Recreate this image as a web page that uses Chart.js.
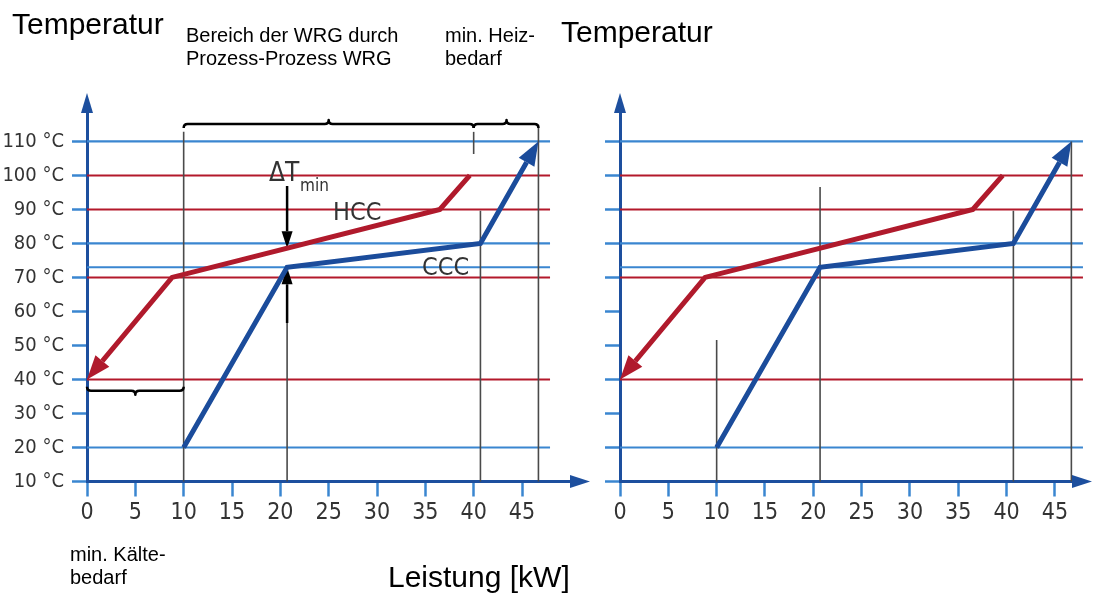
<!DOCTYPE html>
<html>
<head>
<meta charset="utf-8">
<script src="https://cdn.jsdelivr.net/npm/chart.js@4.4.1/dist/chart.umd.min.js"></script>
<style>
  html, body { margin: 0; padding: 0; background: #fff; }
  body { width: 1098px; height: 597px; position: relative; overflow: hidden;
         font-family: "Liberation Sans", Arial, sans-serif; }
  canvas { position: absolute; top: 0; }
  #chartLeft { left: 0; width: 600px; height: 597px; }
  #chartRight { left: 590px; width: 508px; height: 597px; }
  .t { position: absolute; line-height: 1; color: #000; white-space: nowrap; }
  .note { font-size: 20px; line-height: 23px; }
  .big { font-size: 30px; }
  .narrow { font-family: "Liberation Sans Narrow", "DejaVu Sans Condensed", sans-serif; color: #333; }
</style>
</head>
<body>
<canvas id="chartLeft" width="600" height="597"></canvas>
<canvas id="chartRight" width="508" height="597"></canvas>

<div class="t big" style="left:12px;top:9px">Temperatur</div>
<div class="t big" style="left:561px;top:17px">Temperatur</div>
<div class="t note" style="left:186px;top:24px">Bereich der WRG durch<br>Prozess-Prozess WRG</div>
<div class="t note" style="left:445px;top:24px">min. Heiz-<br>bedarf</div>
<div class="t note" style="left:70px;top:543px">min. Kälte-<br>bedarf</div>
<div class="t big" style="left:388px;top:562px">Leistung [kW]</div>
<div class="t narrow" style="left:333px;top:199px;font-size:25px">HCC</div>
<div class="t narrow" style="left:422px;top:254px;font-size:25px">CCC</div>
<div class="t narrow" style="left:269px;top:159px;font-size:26px">ΔT</div>
<div class="t narrow" style="left:300px;top:177px;font-size:17px">min</div>

<script>
// Axis ticks
const tempTicks = [10, 20, 30, 40, 50, 60, 70, 80, 90, 100, 110];
const powerTicks = [0, 5, 10, 15, 20, 25, 30, 35, 40, 45];

// Temperature levels of the hot (red) and cold (blue) streams
const hotLevels = [100, 90, 70, 40];
const coldLevels = [110, 80, 73, 20];
const levelEnd = 47.9;

// Hot composite curve (HCC), drawn from the top end down to the arrow tip
const hccPower = [39.6, 36.5, 8.8, 0];
const hccTemp = [100, 90, 70, 40];

// Cold composite curve (CCC), drawn from the start up to the arrow tip
const cccPower = [10, 20.7, 40.7, 46.7];
const cccTemp = [20, 73, 80, 110];

// Vertical guide lines (power in kW, upper end in °C)
const guidePower = [10, 20.7, 40.7, 46.7];
const guideTopLeft = [112.8, 56.6, 89.6, 114.9];
const guideTopRight = [51.6, 96.6, 89.6, 110];
const splitMarkPower = 40;
const splitMarkTemp = [106.3, 112.8];

// Minimum temperature difference at the pinch
const pinchPower = 20.7;
const pinchHot = 78.6;
const pinchCold = 73;
const pinchArrowStart = [96.9, 56.6];

const RED = '#b01a2c';
const BLUE = '#1b4c9b';
const GRID_RED = '#b3192b';
const GRID_BLUE = '#3a86d0';
const AXIS_BLUE = '#1d4f9e';
const GUIDE = '#4a4a4a';
const LABEL_FONT = "'Liberation Sans Narrow', 'DejaVu Sans Condensed', sans-serif";

const pts = (xs, ys) => xs.map((x, i) => ({ x, y: ys[i] }));

function levelSets() {
  const sets = [];
  hotLevels.forEach(t => sets.push({ data: pts([0, levelEnd], [t, t]), borderColor: GRID_RED, borderWidth: 2, order: 4, clip: false }));
  coldLevels.forEach(t => sets.push({ data: pts([0, levelEnd], [t, t]), borderColor: GRID_BLUE, borderWidth: 2.2, order: 4, clip: false }));
  return sets;
}

function guideSets(tops) {
  return guidePower.map((p, i) => ({ data: pts([p, p], [10, tops[i]]), borderColor: GUIDE, borderWidth: 1.6, order: 3, clip: false }));
}

function curveSets() {
  return [
    { data: pts(hccPower, hccTemp), borderColor: RED, borderWidth: 5, order: 0, head: { len: 24, half: 9 } },
    { data: pts(cccPower, cccTemp), borderColor: BLUE, borderWidth: 5, order: 0, head: { len: 24, half: 9 } }
  ];
}

function pinchSets() {
  return [
    { data: pts([pinchPower, pinchPower], [pinchArrowStart[0], pinchHot]), borderColor: '#000', borderWidth: 2.5, order: 1, head: { len: 17, half: 5.5 } },
    { data: pts([pinchPower, pinchPower], [pinchArrowStart[1], pinchCold]), borderColor: '#000', borderWidth: 2.5, order: 1, head: { len: 17, half: 5.5 } }
  ];
}

function headGeom(chart, ds) {
  const xs = chart.scales.x, ys = chart.scales.y;
  const n = ds.data.length;
  const a = ds.data[n - 2], b = ds.data[n - 1];
  const tx = xs.getPixelForValue(b.x), ty = ys.getPixelForValue(b.y);
  const ax = xs.getPixelForValue(a.x), ay = ys.getPixelForValue(a.y);
  const L = Math.hypot(tx - ax, ty - ay);
  const ux = (tx - ax) / L, uy = (ty - ay) / L;
  const nx = -uy, ny = ux;
  const bx = tx - ux * ds.head.len, by = ty - uy * ds.head.len;
  return { tx, ty, bx, by, ux, uy, nx, ny, half: ds.head.half, len: ds.head.len };
}

function drawBrace(ctx, x1, x2, xm, y, d) {
  // d = -1: tip points up, d = 1: tip points down
  const r = 4;
  ctx.beginPath();
  ctx.moveTo(x1, y - d * r);
  ctx.quadraticCurveTo(x1, y, x1 + r, y);
  ctx.lineTo(xm - r, y);
  ctx.quadraticCurveTo(xm, y, xm, y + d * r);
  ctx.quadraticCurveTo(xm, y, xm + r, y);
  ctx.lineTo(x2 - r, y);
  ctx.quadraticCurveTo(x2, y, x2, y - d * r);
  ctx.stroke();
}

const decor = {
  id: 'decor',
  beforeDatasetDraw(chart, args) {
    const ds = chart.data.datasets[args.index];
    if (!ds.head) return;
    const g = headGeom(chart, ds);
    const ctx = chart.ctx;
    const w = g.half + 4, l = g.len + 6;
    ctx.save();
    ctx.beginPath();
    ctx.rect(0, 0, chart.width, chart.height);
    ctx.moveTo(g.bx + g.nx * w, g.by + g.ny * w);
    ctx.lineTo(g.bx + g.nx * w + g.ux * l, g.by + g.ny * w + g.uy * l);
    ctx.lineTo(g.bx - g.nx * w + g.ux * l, g.by - g.ny * w + g.uy * l);
    ctx.lineTo(g.bx - g.nx * w, g.by - g.ny * w);
    ctx.closePath();
    ctx.clip('evenodd');
  },
  afterDatasetDraw(chart, args) {
    const ds = chart.data.datasets[args.index];
    if (!ds.head) return;
    const ctx = chart.ctx;
    ctx.restore();
    const g = headGeom(chart, ds);
    ctx.save();
    ctx.fillStyle = ds.borderColor;
    ctx.beginPath();
    ctx.moveTo(g.tx, g.ty);
    ctx.lineTo(g.bx + g.nx * g.half, g.by + g.ny * g.half);
    ctx.lineTo(g.bx - g.nx * g.half, g.by - g.ny * g.half);
    ctx.closePath();
    ctx.fill();
    ctx.restore();
  },
  afterDraw(chart, args, opts) {
    const ctx = chart.ctx;
    const xs = chart.scales.x, ys = chart.scales.y;
    const area = chart.chartArea;
    ctx.save();
    // axis arrow heads
    ctx.fillStyle = AXIS_BLUE;
    ctx.beginPath();
    ctx.moveTo(area.left, area.top - 12);
    ctx.lineTo(area.left - 6, area.top + 8);
    ctx.lineTo(area.left + 6, area.top + 8);
    ctx.closePath();
    ctx.fill();
    ctx.beginPath();
    ctx.moveTo(area.right + 10, area.bottom);
    ctx.lineTo(area.right - 10, area.bottom - 6.5);
    ctx.lineTo(area.right - 10, area.bottom + 6.5);
    ctx.closePath();
    ctx.fill();
    // braces
    ctx.strokeStyle = '#000';
    ctx.lineWidth = 2.5;
    ctx.lineJoin = 'round';
    (opts.braces || []).forEach(b => {
      drawBrace(ctx, xs.getPixelForValue(b.from), xs.getPixelForValue(b.to),
        xs.getPixelForValue(b.tip), ys.getPixelForValue(b.at), b.dir);
    });
    ctx.restore();
  }
};

function scalesFor(xMax, yWidth, showTempLabels) {
  return {
    x: {
      type: 'linear', min: 0, max: xMax,
      afterBuildTicks: ax => { ax.ticks = powerTicks.map(v => ({ value: v })); },
      afterFit: ax => { ax.height = 597 - 481.5; },
      grid: { drawOnChartArea: false, drawTicks: true, tickLength: 15, tickColor: GRID_BLUE, tickWidth: 2.5 },
      border: { display: true, color: AXIS_BLUE, width: 3 },
      ticks: { font: { family: LABEL_FONT, size: 23 }, color: '#333', padding: 3, maxRotation: 0, autoSkip: false }
    },
    y: {
      type: 'linear', min: 10, max: 120.7,
      afterBuildTicks: ax => { ax.ticks = tempTicks.map(v => ({ value: v })); },
      afterFit: ax => { ax.width = yWidth; },
      grid: { drawOnChartArea: false, drawTicks: true, tickLength: 15, tickColor: GRID_BLUE, tickWidth: 2.5 },
      border: { display: true, color: AXIS_BLUE, width: 3 },
      ticks: { display: showTempLabels, font: { family: LABEL_FONT, size: 20 }, color: '#333', padding: 8,
               autoSkip: false, callback: v => v + ' °C' }
    }
  };
}

function buildChart(id, cfg) {
  return new Chart(document.getElementById(id), {
    type: 'line',
    data: { datasets: cfg.datasets.map(d => Object.assign({ pointRadius: 0, tension: 0, fill: false, borderJoinStyle: 'miter', borderCapStyle: 'butt' }, d)) },
    options: {
      responsive: false, animation: false, events: [],
      layout: { padding: cfg.padding },
      plugins: { legend: { display: false }, tooltip: { enabled: false }, decor: { braces: cfg.braces } },
      scales: scalesFor(cfg.xMax, cfg.yWidth, cfg.showTempLabels)
    },
    plugins: [decor]
  });
}

buildChart('chartLeft', {
  xMax: 51.0, yWidth: 87, showTempLabels: true,
  padding: { left: 0, top: 105, right: 20, bottom: 0 },
  datasets: [
    ...curveSets(),
    ...pinchSets(),
    ...guideSets(guideTopLeft),
    { data: pts([splitMarkPower, splitMarkPower], splitMarkTemp), borderColor: GUIDE, borderWidth: 1.6, order: 3, clip: false },
    ...levelSets()
  ],
  braces: [
    { from: 10, to: 40, tip: 25, at: 115.1, dir: -1 },
    { from: 40, to: 46.7, tip: 43.4, at: 115.1, dir: -1 },
    { from: 0, to: 10, tip: 5, at: 36.7, dir: 1 }
  ]
});

buildChart('chartRight', {
  xMax: 47.8, yWidth: 30, showTempLabels: false,
  padding: { left: 0, top: 105, right: 16, bottom: 0 },
  datasets: [
    ...curveSets(),
    ...guideSets(guideTopRight),
    ...levelSets()
  ],
  braces: []
});
</script>
</body>
</html>
